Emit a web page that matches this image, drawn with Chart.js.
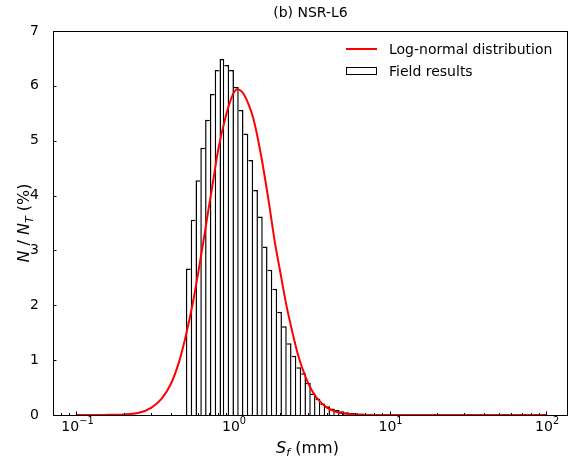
<!DOCTYPE html>
<html>
<head>
<meta charset="utf-8">
<script src="https://cdn.jsdelivr.net/npm/chart.js@4.4.1/dist/chart.umd.min.js"></script>
<style>
  html, body { margin: 0; padding: 0; background: #fff; }
  #wrap { width: 570px; height: 461px; }
</style>
</head>
<body>
<div id="wrap"><canvas id="chart" width="570" height="461"></canvas></div>
<script>
// (b) NSR-L6 — field spacing histogram vs. fitted log-normal, on a log x axis.

// histogram: log-spaced bins between 0.5 mm and 100 mm
const binFrom = 0.5, binTo = 100, binCount = 75;
const fieldPct = [
  2.67, 3.56, 4.28, 4.87, 5.38, 5.85, 6.29, 6.49, 6.38, 6.29,
  5.98, 5.56, 5.13, 4.65, 4.10, 3.62, 3.07, 2.65, 2.30, 1.88,
  1.62, 1.31, 1.08, 0.87, 0.76, 0.59, 0.39, 0.30, 0.21, 0.16,
  0.12, 0.09, 0.067, 0.05, 0.036, 0.03, 0.027, 0.024, 0.021, 0.018,
  0.016, 0.014, 0.012, 0.011, 0.009, 0.008, 0.007, 0.006, 0.005, 0.004,
  0.003, 0.003, 0.002, 0.002, 0.002, 0.001, 0.001, 0.001, 0.001, 0,
  0, 0, 0, 0, 0, 0, 0, 0, 0, 0,
  0, 0, 0, 0, 0
];

// log-normal curve
const lognormX = [0.1, 0.15, 0.2, 0.25, 0.3, 0.35, 0.4, 0.45, 0.5, 0.55, 0.6, 0.65, 0.7, 0.75, 0.8,
  0.9, 1.0, 1.07, 1.15, 1.25, 1.35, 1.5, 1.7, 1.85, 2.0, 2.2, 2.4, 2.6, 2.8, 3.0, 3.25, 3.5,
  4.0, 4.5, 5.0, 6.0, 7.0, 8.5, 10, 15, 30, 100];
const lognormY = [0, 0.002, 0.01, 0.04, 0.13, 0.3, 0.56, 0.95, 1.45, 2.0, 2.6, 3.2, 3.78, 4.3, 4.8,
  5.45, 5.85, 5.94, 5.88, 5.68, 5.4, 4.78, 3.85, 3.15, 2.62, 1.98, 1.5, 1.1, 0.82, 0.6, 0.41, 0.28,
  0.13, 0.065, 0.033, 0.009, 0.002, 0, 0, 0, 0, 0];

const xTickValues = [0.1, 1, 10, 100];
const xTickExponents = ["\u22121", "0", "1", "2"];
const yTickValues = [0, 1, 2, 3, 4, 5, 6, 7];

const FONT = '"DejaVu Sans", sans-serif';
const EDGE = 1.5;

const binCenters = [];
for (let i = 0; i < binCount; i++) {
  const a = Math.log10(binFrom), step = (Math.log10(binTo) - a) / binCount;
  binCenters.push(Math.pow(10, a + (i + 0.5) * step));
}
const peakBin = fieldPct.indexOf(Math.max(...fieldPct));

// shared bar edges: rising side draws the left edge, falling side the right one
function barEdges(c) {
  const i = c.dataIndex;
  return {
    top: EDGE,
    bottom: 0,
    left: i <= peakBin ? EDGE : 0,
    right: i >= peakBin ? EDGE : 0
  };
}

// text runs with italics / sub- and superscripts, centred on cx
function richText(ctx, parts, cx, baseY, size) {
  const runs = parts.map((p) => {
    const s = p.sub || p.sup ? size * 0.7 : size;
    const font = (p.italic ? "italic " : "") + s + "px " + FONT;
    ctx.font = font;
    return { ...p, font, w: ctx.measureText(p.t).width };
  });
  let x = cx - runs.reduce((s, r) => s + r.w, 0) / 2;
  for (const r of runs) {
    ctx.font = r.font;
    const dy = r.sub ? size * 0.22 : r.sup ? -size * 0.5 : 0;
    ctx.fillText(r.t, x, baseY + dy);
    x += r.w;
  }
}

const framePlugin = {
  id: "frame",
  afterDatasetsDraw(chart) {
    const { ctx, chartArea: a, scales } = chart;
    ctx.save();
    ctx.strokeStyle = "#000";
    ctx.lineWidth = 1;
    ctx.beginPath();
    // inward ticks, matplotlib style
    for (const v of yTickValues) {
      const y = Math.round(scales.y.getPixelForValue(v)) + 0.5;
      ctx.moveTo(a.left, y); ctx.lineTo(a.left + 3.5, y);
    }
    for (let k = -2; k <= 2; k++) {
      for (let d = 1; d <= 9; d++) {
        const v = d * Math.pow(10, k);
        if (v < scales.x.min || v > scales.x.max) continue;
        const x = Math.round(scales.x.getPixelForValue(v)) + 0.5;
        ctx.moveTo(x, a.bottom); ctx.lineTo(x, a.bottom - (d === 1 ? 3.5 : 2));
      }
    }
    ctx.stroke();
    ctx.strokeRect(Math.round(a.left) + 0.5, Math.round(a.top) + 0.5,
      Math.round(a.right - a.left) - 1, Math.round(a.bottom - a.top));
    ctx.restore();
  },
  afterDraw(chart) {
    const { ctx, chartArea: a, scales } = chart;
    const cx = (a.left + a.right) / 2, cy = (a.top + a.bottom) / 2;
    ctx.save();
    ctx.fillStyle = "#000";
    ctx.textBaseline = "alphabetic";
    ctx.textAlign = "left";
    richText(ctx, [{ t: "(b) NSR-L6" }], cx, 17, 14);

    // x tick labels 10^n
    xTickValues.forEach((v, i) => {
      richText(ctx, [{ t: "10" }, { t: xTickExponents[i], sup: true }],
        scales.x.getPixelForValue(v) + 1, 431, 14);
    });

    richText(ctx, [{ t: "S", italic: true }, { t: "f", italic: true, sub: true }, { t: " (mm)" }], cx - 3, 452.5, 16);
    ctx.save();
    ctx.translate(29, cy);
    ctx.rotate(-Math.PI / 2);
    richText(ctx, [{ t: "N", italic: true }, { t: " / " }, { t: "N", italic: true },
      { t: "T", italic: true, sub: true }, { t: " (%)" }], 0, 0, 16);
    ctx.restore();

    // legend
    const ds = chart.data.datasets;
    ctx.strokeStyle = ds[0].borderColor;
    ctx.lineWidth = 2;
    ctx.beginPath(); ctx.moveTo(346, 49); ctx.lineTo(377, 49); ctx.stroke();
    ctx.fillStyle = "#fff";
    ctx.strokeStyle = "#000";
    ctx.lineWidth = 1;
    ctx.fillRect(346.5, 67.5, 30, 7);
    ctx.strokeRect(346.5, 67.5, 30, 7);
    ctx.fillStyle = "#000";
    ctx.font = "14px " + FONT;
    ctx.fillText(ds[0].label, 389, 54);
    ctx.fillText(ds[1].label, 389, 76);
    ctx.restore();
  }
};

new Chart(document.getElementById("chart"), {
  type: "bar",
  data: {
    datasets: [
      {
        type: "line",
        label: "Log-normal distribution",
        data: lognormX.map((x, i) => ({ x, y: lognormY[i] })),
        borderColor: "#ff0000",
        borderWidth: 2,
        pointRadius: 0,
        cubicInterpolationMode: "monotone",
        order: 0
      },
      {
        type: "bar",
        label: "Field results",
        data: binCenters.map((x, i) => ({ x, y: fieldPct[i] })),
        backgroundColor: "#ffffff",
        borderColor: "#000000",
        borderWidth: barEdges,
        borderSkipped: false,
        inflateAmount: 0,
        categoryPercentage: 1,
        barPercentage: 1,
        order: 1
      }
    ]
  },
  options: {
    responsive: false,
    animation: false,
    devicePixelRatio: 1,
    layout: { padding: { top: 31, right: 2, left: 0, bottom: 0 } },
    plugins: { legend: { display: false }, tooltip: { enabled: false }, title: { display: false } },
    scales: {
      x: {
        type: "logarithmic",
        min: Math.pow(10, -1.15),
        max: Math.pow(10, 2.14),
        grid: { display: false },
        border: { display: false },
        afterBuildTicks: (s) => { s.ticks = xTickValues.map((v) => ({ value: v })); },
        afterFit: (s) => { s.height = 46; },
        ticks: { display: false, autoSkip: false }
      },
      y: {
        type: "linear",
        min: 0,
        max: 7,
        grid: { display: false },
        border: { display: false },
        afterBuildTicks: (s) => { s.ticks = yTickValues.map((v) => ({ value: v })); },
        afterFit: (s) => { s.width = 53; },
        ticks: { padding: 6, color: "#000", font: { family: FONT, size: 14 } }
      }
    }
  },
  plugins: [framePlugin]
});
</script>
</body>
</html>
